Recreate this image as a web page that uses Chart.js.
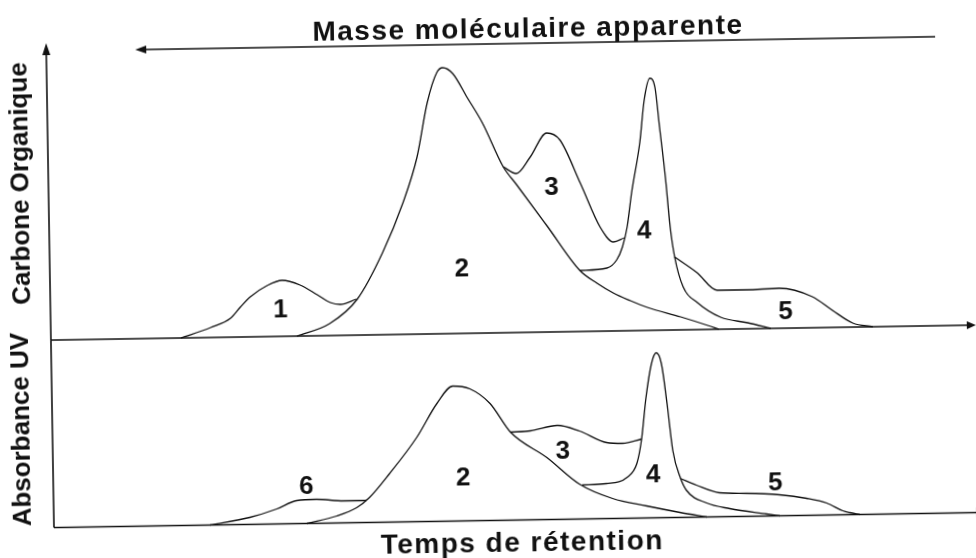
<!DOCTYPE html>
<html lang="fr">
<head>
  <meta charset="UTF-8">
  <title>Chromatogramme - masse moléculaire apparente</title>
  <script src="https://cdn.jsdelivr.net/npm/chart.js"></script>
  <style>
    html, body { margin: 0; padding: 0; background: #fff; overflow: hidden; }
    /* la figure scannée est légèrement de travers */
    .figure { position: relative; width: 976px; height: 558px; transform: rotate(-0.93deg); }
    .figure canvas { position: absolute; left: 0; top: 0; }
  </style>
</head>
<body>
  <div class="figure">
    <canvas id="graficoCO" width="976" height="558"></canvas>
    <canvas id="graficoUV" width="976" height="558"></canvas>
  </div>

  <script>
    // temps de rétention (u.a.), intensité (u.a.)
    // Carbone organique
    const coPic1 = [[130,0],[160,10],[180,19],[190,30],[200,40],[217,51],[232,56],[250,51],[267,41],[280,33],[290,31],[306,36]];
    const coPic2 = [[246,0],[279,12],[307,36],[333,82],[354,131],[369,177],[380,231],[390,261],[396,266],[406,260],[420,236],[435,210],[455,166],[468,148],[498,106],[530,61],[547,48],[563,38],[580,30],[597,23],[630,13],[657,4],[668,0]];
    const coPic3 = [[455,166],[468,159],[482,175],[499,199],[512,192],[532,148],[551,104],[564,89],[575,93]];
    const coPic4 = [[530,61],[557,63],[567,71],[573,84],[578,104],[583,138],[592,188],[597,230],[603,252],[608,243],[612,203],[617,153],[621,103],[625,73],[633,43],[647,27],[670,12],[697,6],[720,0]];
    const coPic5 = [[625,73],[647,57],[667,39],[696,39],[729,40],[762,31],[782,17],[802,4],[822,0]];
    const coLabels = [['1',230,26],['2',412,64],['3',503,144],['4',595,99],['5',735,16]];

    // Absorbance UV
    const uvPic6 = [[156,0],[196,7],[223,15],[243,23],[263,24],[290,22],[313,22]];
    const uvPic2 = [[253,0],[283,7],[303,15],[316,25],[336,48],[364,84],[385,118],[401,135],[418,132],[438,117],[458,88],[494,62],[526,35],[559,20],[593,12],[626,5],[653,0]];
    const uvPic3 = [[458,88],[478,89],[505,94],[527,88],[554,76],[570,75],[589,79]];
    const uvPic4 = [[529,34],[553,35],[574,41],[584,55],[589,79],[594,120],[600,154],[605,165],[610,154],[615,114],[620,67],[627,40],[633,27],[653,14],[676,8],[713,2],[726,0]];
    const uvPic5 = [[627,39],[643,32],[666,24],[693,23],[726,21],[753,17],[773,12],[789,4],[796,2],[806,0]];
    const uvLabels = [['6',253,37],['2',410,43],['3',510,68],['4',600,43],['5',722,33]];

    const FONT = '"Liberation Sans", Arial, sans-serif';
    const INK = '#111';

    function fleche(ctx, x, y, dir, len, half) {
      ctx.beginPath();
      ctx.moveTo(x, y);
      if (dir === 'haut') { ctx.lineTo(x - half, y + len); ctx.lineTo(x + half, y + len); }
      if (dir === 'droite') { ctx.lineTo(x - len, y - half); ctx.lineTo(x - len, y + half); }
      if (dir === 'gauche') { ctx.lineTo(x + len, y - half); ctx.lineTo(x + len, y + half); }
      ctx.closePath();
      ctx.fill();
    }

    function ligne(ctx, x1, y1, x2, y2) {
      ctx.beginPath();
      ctx.moveTo(x1, y1);
      ctx.lineTo(x2, y2);
      ctx.stroke();
    }

    function numeros(chart, liste) {
      const {ctx, scales: {x, y}} = chart;
      ctx.font = 'bold 26px ' + FONT;
      ctx.textAlign = 'center';
      ctx.textBaseline = 'middle';
      liste.forEach(([txt, t, h]) => ctx.fillText(txt, x.getPixelForValue(t), y.getPixelForValue(h)));
    }

    function texteVertical(ctx, txt, cx, cy) {
      ctx.save();
      ctx.translate(cx, cy);
      ctx.rotate(-Math.PI / 2);
      ctx.font = 'bold 26px ' + FONT;
      ctx.textAlign = 'center';
      ctx.textBaseline = 'middle';
      ctx.fillText(txt, 0, 0);
      ctx.restore();
    }

    function titre(ctx, txt, cx, base) {
      ctx.font = 'bold 28px ' + FONT;
      ctx.letterSpacing = '1.5px';
      ctx.textAlign = 'center';
      ctx.textBaseline = 'alphabetic';
      ctx.fillText(txt, cx, base);
      ctx.letterSpacing = '0px';
    }

    const decorCO = {
      id: 'decorCO',
      afterDraw(chart) {
        const {ctx, chartArea: a, scales: {y}} = chart;
        const y0 = y.getPixelForValue(0);
        ctx.save();
        ctx.strokeStyle = INK;
        ctx.fillStyle = INK;
        ctx.lineWidth = 1.6;
        ligne(ctx, a.left, y0, a.left, a.top + 10);
        fleche(ctx, a.left, a.top, 'haut', 12, 4);
        ligne(ctx, a.left, y0, a.right - 6, y0);
        fleche(ctx, a.right, y0, 'droite', 9, 4);

        // flèche "masse moléculaire"
        ctx.lineWidth = 1.4;
        ligne(ctx, 939, 44, 148, 44);
        fleche(ctx, 139, 44, 'gauche', 11, 4);
        titre(ctx, 'Masse moléculaire apparente', 532, 38);

        texteVertical(ctx, 'Carbone Organique', 23, 176);
        numeros(chart, coLabels);
        ctx.restore();
      }
    };

    const decorUV = {
      id: 'decorUV',
      afterDraw(chart) {
        const {ctx, chartArea: a, scales: {y}} = chart;
        const y0 = y.getPixelForValue(0);
        ctx.save();
        ctx.strokeStyle = INK;
        ctx.fillStyle = INK;
        ctx.lineWidth = 1.6;
        ligne(ctx, a.left, y0, a.left, a.top);
        ligne(ctx, a.left, y0, a.right, y0);
        ctx.lineWidth = 2.5;
        ligne(ctx, a.right - 1, y0 - 5, a.right - 1, y0 + 5);

        titre(ctx, 'Temps de rétention', 518, 552);
        texteVertical(ctx, 'Absorbance UV', 20, 422);
        numeros(chart, uvLabels);
        ctx.restore();
      }
    };

    function configPanneau(series, ymax, padding, decor) {
      return {
        type: 'line',
        data: {
          datasets: series.map(s => ({
            data: s.map(([t, h]) => ({x: t, y: h})),
            borderColor: INK,
            borderWidth: 1.3,
            pointRadius: 0,
            cubicInterpolationMode: 'monotone',
            fill: false,
            clip: false
          }))
        },
        options: {
          responsive: false,
          animation: false,
          events: [],
          layout: { padding },
          scales: {
            x: { type: 'linear', display: false, min: 0, max: 925 },
            y: { type: 'linear', display: false, min: 0, max: ymax }
          },
          plugins: { legend: { display: false }, tooltip: { enabled: false } }
        },
        plugins: [decor]
      };
    }

    new Chart(document.getElementById('graficoCO'),
      configPanneau([coPic1, coPic2, coPic3, coPic4, coPic5], 297,
        {left: 50, right: 1, top: 36, bottom: 225}, decorCO));

    new Chart(document.getElementById('graficoUV'),
      configPanneau([uvPic6, uvPic2, uvPic3, uvPic4, uvPic5], 187.5,
        {left: 50, right: 1, top: 333, bottom: 37.5}, decorUV));
  </script>
</body>
</html>
